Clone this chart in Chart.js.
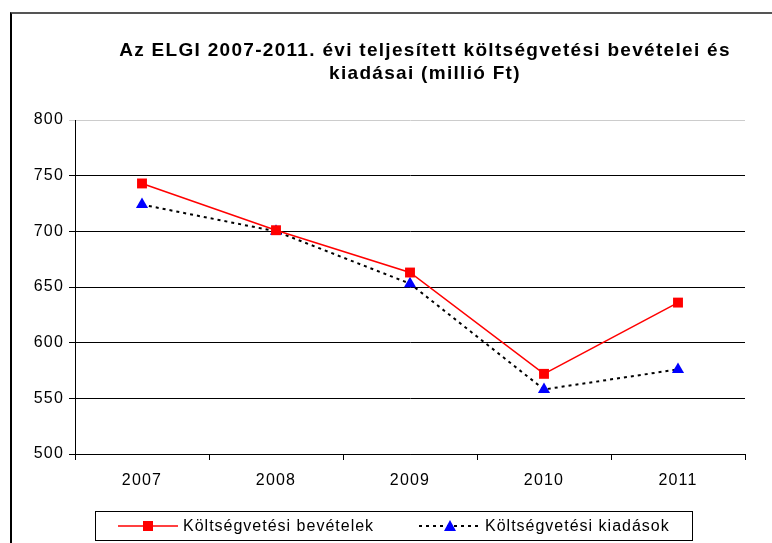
<!DOCTYPE html>
<html>
<head>
<meta charset="utf-8">
<script src="https://cdn.jsdelivr.net/npm/chart.js@4"></script>
<style>
    html, body { margin: 0; padding: 0; background: #fff; }
    #wrap { position: relative; width: 772px; height: 543px; overflow: hidden; }
    #frame { position: absolute; left: 10px; top: 12px; width: 800px; height: 600px;
             border-left: 2px solid #000; border-top: 2px solid #555; }
    canvas { position: absolute; left: 0; top: 0; }
</style>
</head>
<body>
<div id="wrap">
    <div id="frame"></div>
    <canvas id="chart" width="772" height="543"></canvas>
</div>
<script>
const years = ['2007', '2008', '2009', '2010', '2011'];
const bevetelek = [743, 701, 663, 572, 636];
const kiadasok = [724, 700, 653, 558, 576];
const titleLines = ['Az ELGI 2007-2011. évi teljesített költségvetési bevételei és', 'kiadásai (millió Ft)'];

const FONT = '"Liberation Sans", Arial, sans-serif';

// the original text is drawn a bit wide, so spread the letters a little
const spacing = {
    id: 'spacing',
    beforeDraw(chart) { chart.ctx.letterSpacing = '1.2px'; }
};

// title drawn by hand so it can be centred like the original
const wideTitle = {
    id: 'wideTitle',
    afterDraw(chart) {
        const ctx = chart.ctx;
        ctx.save();
        ctx.letterSpacing = '1.3px';
        ctx.fillStyle = '#000';
        ctx.font = 'bold 19px ' + FONT;
        ctx.textAlign = 'center';
        ctx.textBaseline = 'middle';
        ctx.fillText(titleLines[0], 425, 51);
        ctx.fillText(titleLines[1], 425, 74);
        ctx.restore();
    }
};

// legend drawn inside one box, like the original
const boxLegend = {
    id: 'boxLegend',
    afterDraw(chart) {
        const ctx = chart.ctx;
        ctx.save();
        ctx.strokeStyle = '#000';
        ctx.lineWidth = 1;
        ctx.strokeRect(95.5, 511.5, 597, 29);

        const y = 526;
        // item 1
        ctx.strokeStyle = 'red';
        ctx.lineWidth = 1.5;
        ctx.beginPath();
        ctx.moveTo(118, y);
        ctx.lineTo(178, y);
        ctx.stroke();
        ctx.fillStyle = 'red';
        ctx.fillRect(143, y - 5, 10, 10);

        // item 2
        ctx.strokeStyle = '#000';
        ctx.lineWidth = 2;
        ctx.setLineDash([3, 4]);
        ctx.beginPath();
        ctx.moveTo(419, y);
        ctx.lineTo(480, y);
        ctx.stroke();
        ctx.setLineDash([]);
        ctx.fillStyle = 'blue';
        ctx.beginPath();
        ctx.moveTo(450, y - 6);
        ctx.lineTo(456, y + 5);
        ctx.lineTo(444, y + 5);
        ctx.closePath();
        ctx.fill();

        ctx.letterSpacing = '1px';
        ctx.fillStyle = '#000';
        ctx.font = '16px ' + FONT;
        ctx.textBaseline = 'middle';
        ctx.fillText(chart.data.datasets[0].label, 183, y + 1);
        ctx.fillText(chart.data.datasets[1].label, 485, y + 1);
        ctx.restore();
    }
};

new Chart(document.getElementById('chart'), {
    type: 'line',
    data: {
        labels: years,
        datasets: [{
            label: 'Költségvetési bevételek',
            data: bevetelek,
            borderColor: 'red',
            borderWidth: 1.5,
            pointStyle: 'rect',
            pointRadius: 7,
            pointBackgroundColor: 'red',
            pointBorderColor: 'red',
            pointBorderWidth: 0,
            tension: 0
        }, {
            label: 'Költségvetési kiadások',
            data: kiadasok,
            borderColor: '#000',
            borderWidth: 2,
            borderDash: [3, 4],
            pointStyle: 'triangle',
            pointRadius: 7,
            pointBackgroundColor: 'blue',
            pointBorderColor: 'blue',
            pointBorderWidth: 0,
            tension: 0
        }]
    },
    options: {
        responsive: false,
        animation: false,
        layout: { padding: { top: 120, right: 27, bottom: 40, left: 0 } },
        plugins: {
            legend: { display: false },
            tooltip: { enabled: false },
            title: { display: false }
        },
        scales: {
            x: {
                offset: true,
                grid: { offset: true, drawOnChartArea: false, color: '#000', tickLength: 6 },
                border: { color: '#000', width: 1 },
                ticks: { color: '#000', padding: 11, font: { family: FONT, size: 16 } },
                afterFit(scale) { scale.height = 49; }
            },
            y: {
                min: 500,
                max: 800,
                ticks: { stepSize: 50, color: '#000', padding: 5, font: { family: FONT, size: 16 } },
                grid: {
                    color: ctx => ctx.tick && ctx.tick.value === 800 ? '#ccc' : '#000',
                    tickLength: 6
                },
                border: { color: '#000', width: 1 },
                afterFit(scale) { scale.width = 75; }
            }
        }
    },
    plugins: [spacing, wideTitle, boxLegend]
});
</script>
</body>
</html>
